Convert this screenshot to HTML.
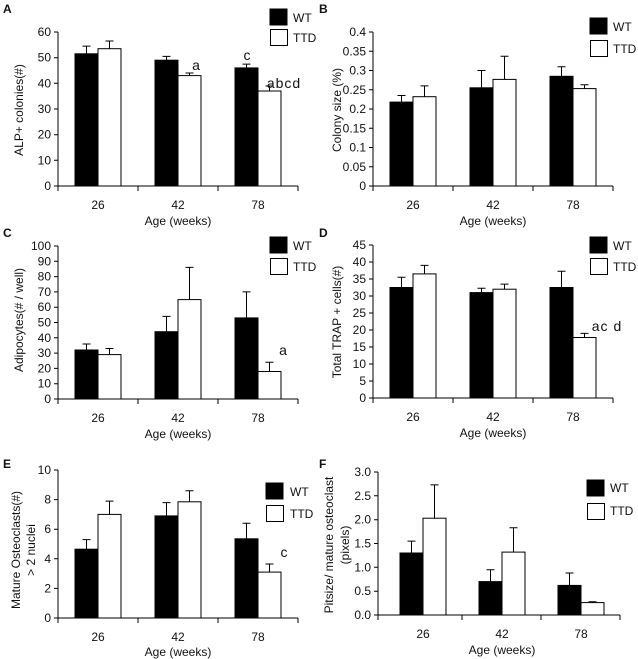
<!DOCTYPE html><html><head><style>body{margin:0;background:#fff}svg{display:block}text{font-family:"Liberation Sans",Arial,sans-serif;font-size:12px;fill:#111}</style></head><body>
<svg width="638" height="659" viewBox="0 0 638 659" xmlns="http://www.w3.org/2000/svg" stroke-width="1">
<g style="font-weight:bold"><text x="3" y="13" style="font-weight:bold">A</text><text x="319" y="13" style="font-weight:bold">B</text><text x="3" y="237" style="font-weight:bold">C</text><text x="319" y="237" style="font-weight:bold">D</text><text x="3" y="468" style="font-weight:bold">E</text><text x="319" y="468" style="font-weight:bold">F</text></g>

<!-- A -->
<g stroke="#000" fill="none">
<path d="M58,32V186H298M54,186H58M54,160.3H58M54,134.7H58M54,109H58M54,83.3H58M54,57.7H58M54,32H58M58,186V191M138,186V191M218,186V191M298,186V191"/>
<rect x="75" y="53.8" width="23" height="132.2" fill="#000"/><rect x="98" y="48.7" width="23" height="137.3" fill="#fff"/>
<rect x="155" y="60.2" width="23" height="125.8" fill="#000"/><rect x="178" y="75.6" width="23" height="110.4" fill="#fff"/>
<rect x="235" y="67.9" width="23" height="118.1" fill="#000"/><rect x="258" y="91" width="23" height="95" fill="#fff"/>
<path d="M86.5,53.8V46.1M82.5,46.1H90.5M109.5,48.7V41M105.5,41H113.5M166.5,60.2V56.4M162.5,56.4H170.5M189.5,75.6V73M185.5,73H193.5M246.5,67.9V64.1M242.5,64.1H250.5M269.5,91V86M265.5,86H273.5"/>
<rect x="270" y="9" width="17" height="16" fill="#000"/><rect x="270.5" y="29.5" width="17" height="16" fill="#fff"/>
</g>
<g text-anchor="end"><text x="51" y="190">0</text><text x="51" y="164.3">10</text><text x="51" y="138.7">20</text><text x="51" y="113">30</text><text x="51" y="87.3">40</text><text x="51" y="61.7">50</text><text x="51" y="36">60</text></g>
<g text-anchor="middle"><text x="98" y="209">26</text><text x="178" y="209">42</text><text x="258" y="209">78</text><text x="178" y="225">Age (weeks)</text>
<text x="196" y="70" style="font-size:14px">a</text><text x="247" y="60" style="font-size:14px">c</text><text x="284" y="88" style="font-size:14px;letter-spacing:1px">abcd</text>
<text transform="translate(23,110) rotate(-90)">ALP+ colonies(#)</text></g>
<text x="293" y="22">WT</text><text x="293" y="42">TTD</text>

<!-- B -->
<g stroke="#000" fill="none">
<path d="M373,32V186H613M369,186H373M369,166.75H373M369,147.5H373M369,128.25H373M369,109H373M369,89.75H373M369,70.5H373M369,51.25H373M369,32H373M373,186V191M453,186V191M533,186V191M613,186V191"/>
<rect x="390" y="102.1" width="23" height="83.9" fill="#000"/><rect x="413" y="96.7" width="23" height="89.3" fill="#fff"/>
<rect x="470" y="87.8" width="23" height="98.2" fill="#000"/><rect x="493" y="79.4" width="23" height="106.6" fill="#fff"/>
<rect x="550" y="76.3" width="23" height="109.7" fill="#000"/><rect x="573" y="88.6" width="23" height="97.4" fill="#fff"/>
<path d="M401.5,102.1V95.5M397.5,95.5H405.5M424.5,96.7V85.9M420.5,85.9H428.5M481.5,87.8V70.5M477.5,70.5H485.5M504.5,79.4V56.3M500.5,56.3H508.5M561.5,76.3V66.7M557.5,66.7H565.5M584.5,88.6V84.8M580.5,84.8H588.5"/>
<rect x="590" y="18" width="17" height="16" fill="#000"/><rect x="590.5" y="40.5" width="17" height="16" fill="#fff"/>
</g>
<g text-anchor="end"><text x="366" y="190">0</text><text x="366" y="170.75">0.05</text><text x="366" y="151.5">0.1</text><text x="366" y="132.25">0.15</text><text x="366" y="113">0.2</text><text x="366" y="93.75">0.25</text><text x="366" y="74.5">0.3</text><text x="366" y="55.25">0.35</text><text x="366" y="36">0.4</text></g>
<g text-anchor="middle"><text x="413" y="209">26</text><text x="493" y="209">42</text><text x="573" y="209">78</text><text x="493" y="225">Age (weeks)</text>
<text transform="translate(341,110) rotate(-90)">Colony size (%)</text></g>
<text x="613" y="31">WT</text><text x="613" y="53">TTD</text>

<!-- C -->
<g stroke="#000" fill="none">
<path d="M58,246V399H298M54,399H58M54,383.7H58M54,368.4H58M54,353.1H58M54,337.8H58M54,322.5H58M54,307.2H58M54,291.9H58M54,276.6H58M54,261.3H58M54,246H58M58,399V404M138,399V404M218,399V404M298,399V404"/>
<rect x="75" y="350" width="23" height="49" fill="#000"/><rect x="98" y="354.6" width="23" height="44.4" fill="#fff"/>
<rect x="155" y="331.7" width="23" height="67.3" fill="#000"/><rect x="178" y="299.6" width="23" height="99.4" fill="#fff"/>
<rect x="235" y="317.9" width="23" height="81.1" fill="#000"/><rect x="258" y="371.5" width="23" height="27.5" fill="#fff"/>
<path d="M86.5,350V344M82.5,344H90.5M109.5,354.6V348.5M105.5,348.5H113.5M166.5,331.7V316.4M162.5,316.4H170.5M189.5,299.6V267.4M185.5,267.4H193.5M246.5,317.9V291.9M242.5,291.9H250.5M269.5,371.5V362.3M265.5,362.3H273.5"/>
<rect x="270" y="237" width="17" height="16" fill="#000"/><rect x="270.5" y="258.5" width="17" height="16" fill="#fff"/>
</g>
<g text-anchor="end"><text x="51" y="403">0</text><text x="51" y="387.7">10</text><text x="51" y="372.4">20</text><text x="51" y="357.1">30</text><text x="51" y="341.8">40</text><text x="51" y="326.5">50</text><text x="51" y="311.2">60</text><text x="51" y="295.9">70</text><text x="51" y="280.6">80</text><text x="51" y="265.3">90</text><text x="51" y="250">100</text></g>
<g text-anchor="middle"><text x="98" y="422">26</text><text x="178" y="422">42</text><text x="258" y="422">78</text><text x="178" y="438">Age (weeks)</text>
<text x="283" y="355" style="font-size:14px">a</text>
<text transform="translate(23,320) rotate(-90)">Adipocytes(# / well)</text></g>
<text x="293" y="250">WT</text><text x="293" y="271">TTD</text>

<!-- D -->
<g stroke="#000" fill="none">
<path d="M373,245V398H613M369,398H373M369,381H373M369,364H373M369,347H373M369,330H373M369,313H373M369,296H373M369,279H373M369,262H373M369,245H373M373,398V403M453,398V403M533,398V403M613,398V403"/>
<rect x="390" y="287.5" width="23" height="110.5" fill="#000"/><rect x="413" y="273.9" width="23" height="124.1" fill="#fff"/>
<rect x="470" y="292.6" width="23" height="105.4" fill="#000"/><rect x="493" y="289.2" width="23" height="108.8" fill="#fff"/>
<rect x="550" y="287.5" width="23" height="110.5" fill="#000"/><rect x="573" y="337.5" width="23" height="60.5" fill="#fff"/>
<path d="M401.5,287.5V277.3M397.5,277.3H405.5M424.5,273.9V265.4M420.5,265.4H428.5M481.5,292.6V288.2M477.5,288.2H485.5M504.5,289.2V284.1M500.5,284.1H508.5M561.5,287.5V271.2M557.5,271.2H565.5M584.5,337.5V333.4M580.5,333.4H588.5"/>
<rect x="590" y="237" width="17" height="16" fill="#000"/><rect x="590.5" y="258.5" width="17" height="16" fill="#fff"/>
</g>
<g text-anchor="end"><text x="366" y="402">0</text><text x="366" y="385">5</text><text x="366" y="368">10</text><text x="366" y="351">15</text><text x="366" y="334">20</text><text x="366" y="317">25</text><text x="366" y="300">30</text><text x="366" y="283">35</text><text x="366" y="266">40</text><text x="366" y="249">45</text></g>
<g text-anchor="middle"><text x="413" y="421">26</text><text x="493" y="421">42</text><text x="573" y="421">78</text><text x="493" y="437">Age (weeks)</text>
<text x="607" y="331" style="font-size:14px;letter-spacing:1px">ac d</text>
<text transform="translate(341,322) rotate(-90)">Total TRAP + cells(#)</text></g>
<text x="613" y="250">WT</text><text x="613" y="271">TTD</text>

<!-- E -->
<g stroke="#000" fill="none">
<path d="M58,470V618H298M54,618H58M54,588.4H58M54,558.8H58M54,529.2H58M54,499.6H58M54,470H58M58,618V623M138,618V623M218,618V623M298,618V623"/>
<rect x="75" y="549.2" width="23" height="68.8" fill="#000"/><rect x="98" y="514.4" width="23" height="103.6" fill="#fff"/>
<rect x="155" y="515.9" width="23" height="102.1" fill="#000"/><rect x="178" y="501.8" width="23" height="116.2" fill="#fff"/>
<rect x="235" y="538.8" width="23" height="79.2" fill="#000"/><rect x="258" y="572.1" width="23" height="45.9" fill="#fff"/>
<path d="M86.5,549.2V539.6M82.5,539.6H90.5M109.5,514.4V501.1M105.5,501.1H113.5M166.5,515.9V502.6M162.5,502.6H170.5M189.5,501.8V490.7M185.5,490.7H193.5M246.5,538.8V523.3M242.5,523.3H250.5M269.5,572.1V564M265.5,564H273.5"/>
<rect x="266" y="483" width="17" height="16" fill="#000"/><rect x="266.5" y="505.5" width="17" height="16" fill="#fff"/>
</g>
<g text-anchor="end"><text x="51" y="622">0</text><text x="51" y="592.4">2</text><text x="51" y="562.8">4</text><text x="51" y="533.2">6</text><text x="51" y="503.6">8</text><text x="51" y="474">10</text></g>
<g text-anchor="middle"><text x="98" y="641">26</text><text x="178" y="641">42</text><text x="258" y="641">78</text><text x="178" y="656">Age (weeks)</text>
<text x="284" y="557" style="font-size:14px">c</text>
<text transform="translate(20,550) rotate(-90)">Mature Osteoclasts(#)</text><text transform="translate(35,550) rotate(-90)">&gt; 2 nuclei</text></g>
<text x="290" y="496">WT</text><text x="290" y="518">TTD</text>

<!-- F -->
<g stroke="#000" fill="none">
<path d="M378,472V615H620M374,615H378M374,591.2H378M374,567.3H378M374,543.5H378M374,519.7H378M374,495.8H378M374,472H378M378,615V620M462,615V620M541,615V620M620,615V620"/>
<rect x="400" y="553" width="23" height="62" fill="#000"/><rect x="423" y="518.2" width="23" height="96.8" fill="#fff"/>
<rect x="479" y="581.6" width="23" height="33.4" fill="#000"/><rect x="502" y="552.1" width="23" height="62.9" fill="#fff"/>
<rect x="558" y="585.4" width="23" height="29.6" fill="#000"/><rect x="581" y="602.6" width="23" height="12.4" fill="#fff"/>
<path d="M411.5,553V541.1M407.5,541.1H415.5M434.5,518.2V484.9M430.5,484.9H438.5M490.5,581.6V569.7M486.5,569.7H494.5M513.5,552.1V527.8M509.5,527.8H517.5M569.5,585.4V573M565.5,573H573.5M592.5,602.6V601.7M588.5,601.7H596.5"/>
<rect x="587" y="480" width="17" height="16" fill="#000"/><rect x="587.5" y="503.5" width="17" height="16" fill="#fff"/>
</g>
<g text-anchor="end"><text x="371" y="619">0.0</text><text x="371" y="595.2">0.5</text><text x="371" y="571.3">1.0</text><text x="371" y="547.5">1.5</text><text x="371" y="523.7">2.0</text><text x="371" y="499.8">2.5</text><text x="371" y="476">3.0</text></g>
<g text-anchor="middle"><text x="423" y="638">26</text><text x="502" y="638">42</text><text x="581" y="638">78</text><text x="502" y="654">Age (weeks)</text>
<text transform="translate(333,545) rotate(-90)">Pitsize/ mature osteoclast</text><text transform="translate(349,545) rotate(-90)">(pixels)</text></g>
<text x="610" y="492">WT</text><text x="610" y="515">TTD</text>
</svg></body></html>
